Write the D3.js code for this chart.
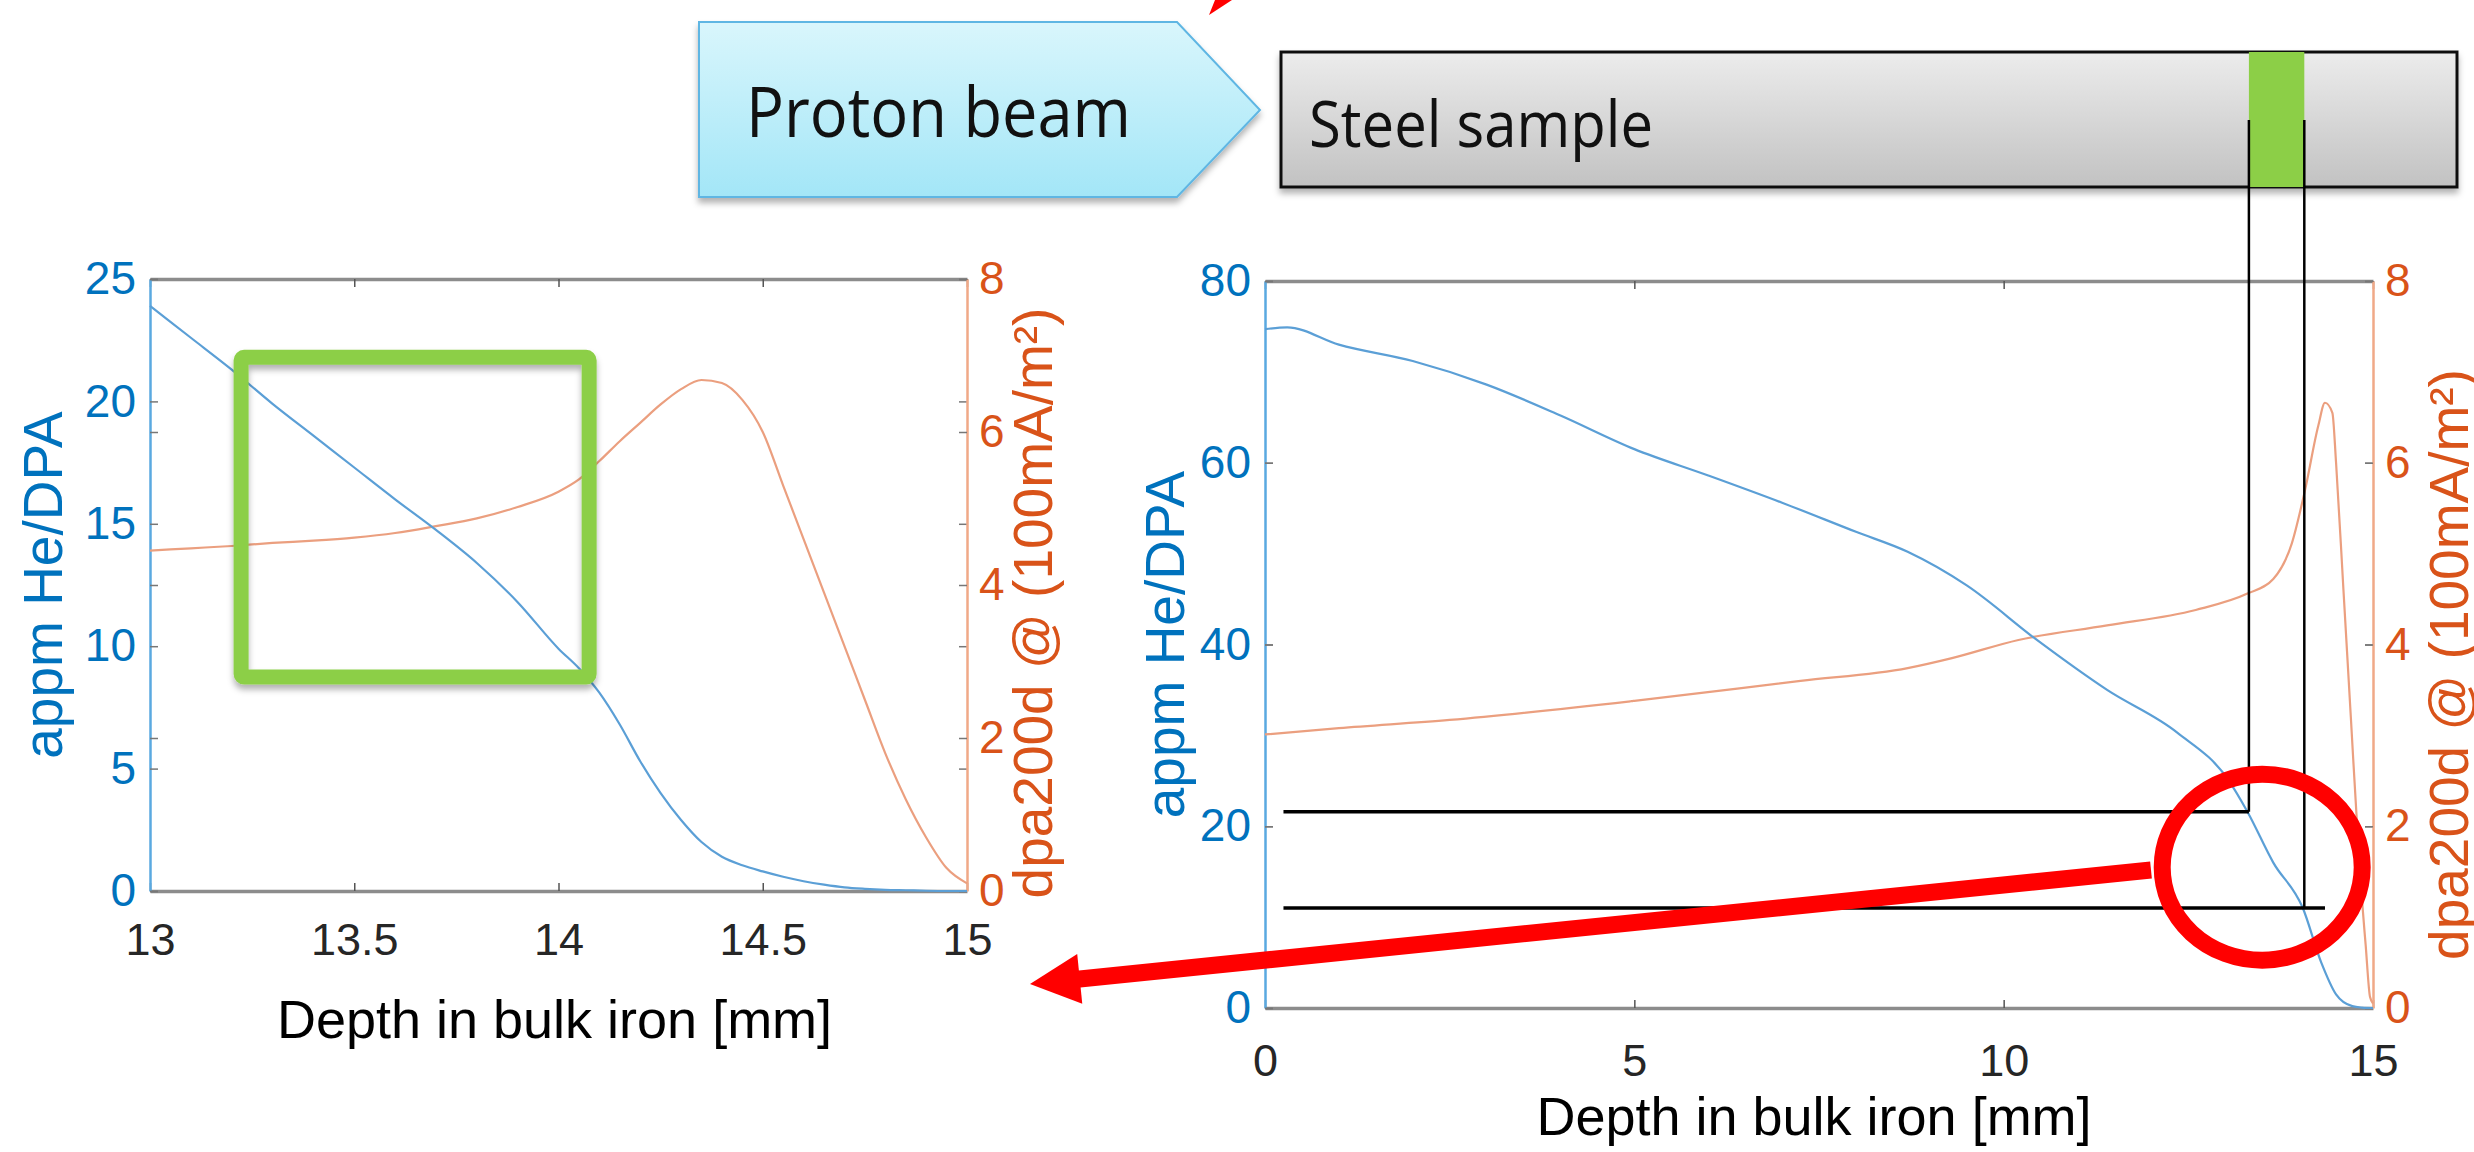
<!DOCTYPE html>
<html lang="en">
<head>
<meta charset="utf-8">
<title>He/DPA vs depth in bulk iron</title>
<script src="https://d3js.org/d3.v7.min.js"></script>
<style>
  body { margin: 0; background: #fff; }
  svg { display: block; }
</style>
</head>
<body>
<div id="chart"></div>
<script>
// ---- data ----
// zoomed panel, 13 - 15 mm
const zoomDepth = [13.0, 13.1, 13.2, 13.3, 13.4, 13.5, 13.6, 13.7, 13.8, 13.9, 14.0, 14.05, 14.1, 14.15, 14.2, 14.25, 14.3, 14.35, 14.4, 14.45, 14.5, 14.55, 14.6, 14.65, 14.7, 14.75, 14.8, 14.85, 14.9, 14.95, 15.0];
const zoomHe   = [23.9, 22.6, 21.3, 19.9, 18.6, 17.3, 16.0, 14.75, 13.4, 11.8, 9.9, 9.1, 8.1, 6.8, 5.3, 4.0, 2.9, 2.0, 1.4, 1.05, 0.8, 0.58, 0.4, 0.26, 0.15, 0.09, 0.05, 0.03, 0.01, 0.0, 0.0];
const zoomDpa  = [4.45, 4.48, 4.51, 4.55, 4.58, 4.62, 4.68, 4.77, 4.87, 5.02, 5.22, 5.38, 5.62, 5.88, 6.12, 6.36, 6.56, 6.68, 6.64, 6.42, 6.0, 5.3, 4.6, 3.9, 3.2, 2.5, 1.8, 1.2, 0.7, 0.3, 0.1];

// full panel, 0 - 15 mm
const fullDepth = [0, 0.3, 1.0, 2.0, 3.0, 4.0, 5.0, 6.0, 7.0, 8.0, 8.7, 9.5, 10.45, 11.4, 12.35, 13.05, 13.3, 13.65, 14.05, 14.3, 14.5, 14.72, 14.85, 15.0];
const fullHe    = [74.7, 74.9, 73.0, 71.2, 68.6, 65.2, 61.5, 58.6, 55.6, 52.4, 50.2, 46.5, 40.5, 35.0, 30.3, 25.0, 21.6, 16.0, 11.0, 5.0, 1.5, 0.2, 0.05, 0.0];
const fullDpaDepth = [0, 1.0, 2.5, 5.0, 7.25, 8.7, 9.3, 10.2, 11.4, 12.6, 13.3, 13.65, 13.9, 14.08, 14.26, 14.35, 14.45, 14.5, 14.6, 14.7, 14.8, 14.85, 14.9, 14.96, 15.0];
const fullDpa      = [3.01, 3.08, 3.17, 3.38, 3.6, 3.74, 3.85, 4.05, 4.21, 4.38, 4.56, 4.72, 5.11, 5.7, 6.41, 6.66, 6.55, 6.0, 4.6, 3.2, 1.8, 1.2, 0.7, 0.12, 0.05];

// tick labels
const zoomTicksX  = [13, 13.5, 14, 14.5, 15];
const fullTicksX  = [0, 5, 10, 15];
const zoomTicksHe = [0, 5, 10, 15, 20, 25];
const fullTicksHe = [0, 20, 40, 60, 80];
const dpaTicks    = [0, 2, 4, 6, 8];

// annotation positions, in data units of the full panel
const sampleStart = 13.32, sampleEnd = 14.07;
const heAtStart = 21.6, heAtEnd = 11.0;

const W = 2474, H = 1152;
const blue = "#0072BD", orange = "#D95319";
const font = "'Liberation Sans', Arial, sans-serif";

const svg = d3.select("#chart").append("svg")
    .attr("width", W).attr("height", H);

const defs = svg.append("defs");
const beamGrad = defs.append("linearGradient").attr("id", "beamGrad")
    .attr("x1", 0).attr("y1", 0).attr("x2", 0).attr("y2", 1);
beamGrad.append("stop").attr("offset", "0%").attr("stop-color", "#d9f6fc");
beamGrad.append("stop").attr("offset", "100%").attr("stop-color", "#a3e6f7");
const steelGrad = defs.append("linearGradient").attr("id", "steelGrad")
    .attr("x1", 0).attr("y1", 0).attr("x2", 0).attr("y2", 1);
steelGrad.append("stop").attr("offset", "0%").attr("stop-color", "#ececec");
steelGrad.append("stop").attr("offset", "100%").attr("stop-color", "#c2c2c2");
defs.append("filter").attr("id", "shadow")
    .attr("x", "-10%").attr("y", "-10%").attr("width", "130%").attr("height", "140%")
    .append("feDropShadow")
    .attr("dx", 0).attr("dy", 5).attr("stdDeviation", 3)
    .attr("flood-color", "#000").attr("flood-opacity", 0.3);

// draw one yyaxis panel
function drawPanel(p) {
    const x = d3.scaleLinear().domain(p.xDomain).range([p.left, p.right]);
    const yHe = d3.scaleLinear().domain(p.heDomain).range([p.bottom, p.top]);
    const yDpa = d3.scaleLinear().domain([0, 8]).range([p.bottom, p.top]);
    const g = svg.append("g");

    // top and bottom
    g.append("g").attr("transform", `translate(0,${p.top})`)
        .call(d3.axisTop(x).tickValues(p.ticksX).tickSize(-8).tickSizeOuter(0).tickFormat(""))
        .call(a => a.select(".domain").attr("stroke", "#8c8c8c").attr("stroke-width", 3.5))
        .call(a => a.selectAll(".tick line").attr("stroke", "#555").attr("stroke-width", 1.5));
    g.append("g").attr("transform", `translate(0,${p.bottom})`)
        .call(d3.axisBottom(x).tickValues(p.ticksX).tickSize(-8).tickSizeOuter(0)
            .tickPadding(p.xPad).tickFormat(d => String(d)))
        .call(a => a.select(".domain").attr("stroke", "#8c8c8c").attr("stroke-width", 3.5))
        .call(a => a.selectAll(".tick line").attr("stroke", "#555").attr("stroke-width", 1.5))
        .call(a => a.selectAll("text").attr("fill", "#262626")
            .style("font-family", font).style("font-size", "45px"));

    // left axis (He/DPA)
    g.append("g").attr("transform", `translate(${p.left},0)`)
        .call(d3.axisLeft(yHe).tickValues(p.ticksHe).tickSize(-8).tickSizeOuter(0).tickPadding(14))
        .call(a => a.select(".domain").attr("stroke", "#5aa9e0").attr("stroke-width", 2.5))
        .call(a => a.selectAll(".tick line").attr("stroke", "#777").attr("stroke-width", 1.5))
        .call(a => a.selectAll("text").attr("fill", blue)
            .style("font-family", font).style("font-size", "46px"));
    g.append("g").attr("transform", `translate(${p.right},0)`)
        .call(d3.axisRight(yHe).tickValues(p.ticksHe).tickSize(-8).tickSizeOuter(0).tickFormat(""))
        .call(a => a.select(".domain").remove())
        .call(a => a.selectAll(".tick line").attr("stroke", "#777").attr("stroke-width", 1.5));

    // right axis (dpa)
    g.append("g").attr("transform", `translate(${p.left},0)`)
        .call(d3.axisLeft(yDpa).tickValues(dpaTicks).tickSize(-8).tickSizeOuter(0).tickFormat(""))
        .call(a => a.select(".domain").remove())
        .call(a => a.selectAll(".tick line").attr("stroke", "#777").attr("stroke-width", 1.5));
    g.append("g").attr("transform", `translate(${p.right},0)`)
        .call(d3.axisRight(yDpa).tickValues(dpaTicks).tickSize(-8).tickSizeOuter(0).tickPadding(12))
        .call(a => a.select(".domain").attr("stroke", "#f0a987").attr("stroke-width", 2.5))
        .call(a => a.selectAll(".tick line").attr("stroke", "#777").attr("stroke-width", 1.5))
        .call(a => a.selectAll("text").attr("fill", orange)
            .style("font-family", font).style("font-size", "46px"));

    // curves
    const heLine = d3.line().x(d => x(d[0])).y(d => yHe(d[1])).curve(d3.curveMonotoneX);
    const dpaLine = d3.line().x(d => x(d[0])).y(d => yDpa(d[1])).curve(d3.curveMonotoneX);
    g.append("path").datum(d3.zip(p.dpaDepth, p.dpa))
        .attr("d", dpaLine).attr("fill", "none")
        .attr("stroke", "#eb9f7f").attr("stroke-width", 2.2);
    g.append("path").datum(d3.zip(p.heDepth, p.he))
        .attr("d", heLine).attr("fill", "none")
        .attr("stroke", "#5b9fd6").attr("stroke-width", 2.2);

    // axis titles
    const mid = (p.top + p.bottom) / 2;
    g.append("text")
        .attr("transform", `translate(${p.heLabelX},${mid}) rotate(-90)`)
        .attr("text-anchor", "middle").attr("fill", blue)
        .style("font-family", font).style("font-size", p.labelSize + "px")
        .text("appm He/DPA");
    g.append("text")
        .attr("transform", `translate(${p.dpaLabelX},${mid + p.dpaLabelShift}) rotate(-90)`)
        .attr("text-anchor", "middle").attr("fill", orange)
        .style("font-family", font).style("font-size", p.labelSize + "px")
        .text("dpa200d @ (100mA/m²)");
    g.append("text")
        .attr("x", (p.left + p.right) / 2 + p.xLabelShift).attr("y", p.xLabelY)
        .attr("text-anchor", "middle").attr("fill", "#000")
        .style("font-family", font).style("font-size", "54px")
        .text("Depth in bulk iron [mm]");

    return {x, yHe, yDpa};
}

const zoomPanel = drawPanel({
    left: 150, right: 967, top: 279, bottom: 891,
    xDomain: [13, 15], heDomain: [0, 25],
    ticksX: zoomTicksX, ticksHe: zoomTicksHe,
    heDepth: zoomDepth, he: zoomHe, dpaDepth: zoomDepth, dpa: zoomDpa,
    xPad: 32, heLabelX: 62, dpaLabelX: 1052, dpaLabelShift: 18, labelSize: 55,
    xLabelShift: -4, xLabelY: 1038
});

const fullPanel = drawPanel({
    left: 1265, right: 2373, top: 281, bottom: 1008,
    xDomain: [0, 15], heDomain: [0, 80],
    ticksX: fullTicksX, ticksHe: fullTicksHe,
    heDepth: fullDepth, he: fullHe, dpaDepth: fullDpaDepth, dpa: fullDpa,
    xPad: 36, heLabelX: 1184, dpaLabelX: 2468, dpaLabelShift: 20, labelSize: 55,
    xLabelShift: -5, xLabelY: 1135
});

// ---- annotations ----
// proton beam arrow
svg.append("path")
    .attr("d", "M699,22 H1177 L1260,110 L1177,197 H699 Z")
    .attr("fill", "url(#beamGrad)").attr("stroke", "#5fb6e3").attr("stroke-width", 2)
    .attr("filter", "url(#shadow)");
svg.append("text")
    .attr("x", 746).attr("y", 137)
    .attr("textLength", 385).attr("lengthAdjust", "spacingAndGlyphs")
    .style("font-family", "'Open Sans', 'Noto Sans', sans-serif").style("font-size", "70px")
    .attr("fill", "#111").text("Proton beam");

// steel sample bar
const fx = fullPanel.x, fy = fullPanel.yHe;
svg.append("rect")
    .attr("x", 1281).attr("y", 52).attr("width", 1176).attr("height", 135)
    .attr("fill", "url(#steelGrad)").attr("stroke", "#111").attr("stroke-width", 3)
    .attr("filter", "url(#shadow)");
svg.append("rect")
    .attr("x", fx(sampleStart)).attr("y", 52)
    .attr("width", fx(sampleEnd) - fx(sampleStart)).attr("height", 135)
    .attr("fill", "#8ccf47");
svg.append("text")
    .attr("x", 1309).attr("y", 147)
    .attr("textLength", 344).attr("lengthAdjust", "spacingAndGlyphs")
    .style("font-family", "'Open Sans', 'Noto Sans', sans-serif").style("font-size", "64px")
    .attr("fill", "#111").text("Steel sample");

// guide lines from sample slice down to the curve
svg.append("path")
    .attr("d", `M${fx(sampleStart)},120 V${fy(heAtStart)}`)
    .attr("fill", "none").attr("stroke", "#000").attr("stroke-width", 2.5);
svg.append("path")
    .attr("d", `M${fx(sampleEnd)},120 V${fy(heAtEnd)}`)
    .attr("fill", "none").attr("stroke", "#000").attr("stroke-width", 2.5);
svg.append("line")
    .attr("x1", fx(0.25)).attr("x2", fx(14.35))
    .attr("y1", fy(heAtEnd)).attr("y2", fy(heAtEnd))
    .attr("stroke", "#000").attr("stroke-width", 3.5);
svg.append("line")
    .attr("x1", fx(0.25)).attr("x2", fx(sampleStart))
    .attr("y1", fy(heAtStart)).attr("y2", fy(heAtStart))
    .attr("stroke", "#000").attr("stroke-width", 3.5);

// green window on the zoomed panel
const zx = zoomPanel.x, zy = zoomPanel.yHe;
svg.append("rect")
    .attr("x", zx(13.223)).attr("y", zy(21.8))
    .attr("width", zx(14.075) - zx(13.223)).attr("height", zy(8.74) - zy(21.8))
    .attr("rx", 3)
    .attr("fill", "none").attr("stroke", "#8ccf47").attr("stroke-width", 15)
    .attr("filter", "url(#shadow)");

// red circle and arrow
const circle = {cx: fx(13.5), cy: fy(15.5), rx: 100, ry: 93};
svg.append("ellipse")
    .attr("cx", circle.cx).attr("cy", circle.cy).attr("rx", circle.rx).attr("ry", circle.ry)
    .attr("fill", "none").attr("stroke", "#f00").attr("stroke-width", 17);
const tip = [1030, 984], start = [2151, 870];
const len = Math.hypot(tip[0] - start[0], tip[1] - start[1]);
const dir = [(tip[0] - start[0]) / len, (tip[1] - start[1]) / len];
const base = [tip[0] - 50 * dir[0], tip[1] - 50 * dir[1]];
const perp = [-dir[1], dir[0]];
svg.append("line")
    .attr("x1", start[0]).attr("y1", start[1])
    .attr("x2", base[0] + 5 * dir[0]).attr("y2", base[1] + 5 * dir[1])
    .attr("stroke", "#f00").attr("stroke-width", 17);
svg.append("polygon")
    .attr("points", [tip, [base[0] + 25 * perp[0], base[1] + 25 * perp[1]],
                     [base[0] - 25 * perp[0], base[1] - 25 * perp[1]]].map(d => d.join(",")).join(" "))
    .attr("fill", "#f00");

// red fragment cut at the top edge
svg.append("polygon")
    .attr("points", "1215,0 1232,0 1209,15")
    .attr("fill", "#f00");
</script>
</body>
</html>
